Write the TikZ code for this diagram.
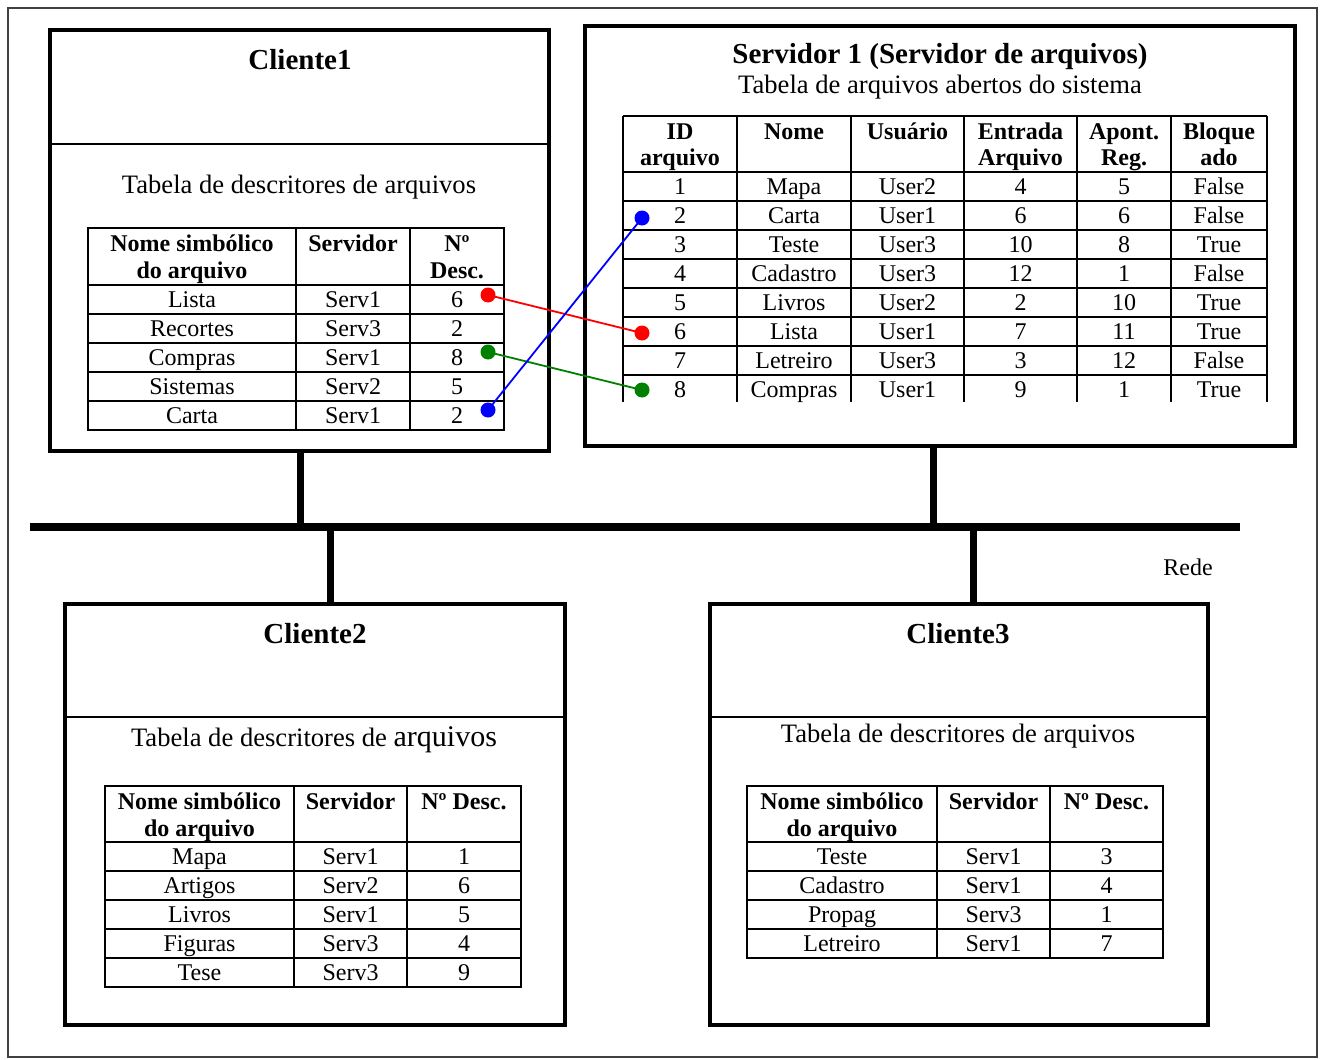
\documentclass[tikz,border=0pt]{standalone}
\usepackage{fontspec}
\setmainfont{Liberation Serif}
\usetikzlibrary{fit}
\definecolor{linkred}{RGB}{255,0,0}
\definecolor{linkgreen}{RGB}{0,128,0}
\definecolor{linkblue}{RGB}{0,0,255}
\begin{document}
\begin{tikzpicture}[x=0.5pt,y=-0.5pt,
  hostbox/.style={draw, line width=2pt, inner sep=0pt},
  rule/.style={line width=1pt},
  grid/.style={line width=1pt},
  bus/.style={line width=4pt},
  drop/.style={line width=3.5pt},
  title/.style={anchor=base, font=\fontsize{14.5}{17}\selectfont\bfseries, inner sep=0pt},
  caption/.style={anchor=base, font=\fontsize{13.3}{16}\selectfont, inner sep=0pt},
  cell/.style={anchor=base, font=\fontsize{12}{14}\selectfont, inner sep=0pt},
  head/.style={anchor=base, font=\fontsize{12}{14}\selectfont\bfseries, inner sep=0pt},
  dot/.style={circle, fill=#1, inner sep=0pt, minimum size=7.5pt},
  link/.style={draw=#1, line width=0.9pt},
]
\useasboundingbox (0,0) rectangle (1320,1059);
% outer frame
\draw[line width=1pt, black!75] (8,8) rectangle (1317,1057);

% ---------- host boxes ----------
\coordinate (c1a) at (50,30);   \coordinate (c1b) at (549,451);
\coordinate (sva) at (585,26);  \coordinate (svb) at (1295,446);
\coordinate (c2a) at (65,604);  \coordinate (c2b) at (565,1025);
\coordinate (c3a) at (710,604); \coordinate (c3b) at (1208,1025);
\node[hostbox, fit=(c1a)(c1b)] (c1) {};
\node[hostbox, fit=(sva)(svb)] (srv) {};
\node[hostbox, fit=(c2a)(c2b)] (c2) {};
\node[hostbox, fit=(c3a)(c3b)] (c3) {};
\draw[rule] (c1.west |- 0,144) -- (c1.east |- 0,144);
\draw[rule] (c2.west |- 0,717) -- (c2.east |- 0,717);
\draw[rule] (c3.west |- 0,717) -- (c3.east |- 0,717);

% ---------- network ----------
\coordinate (busL) at (30,527);
\coordinate (busR) at (1240,527);
\draw[bus] (busL) -- (busR);
\coordinate (d1) at ([xshift=0.25pt]c1.south);
\coordinate (ds) at ([xshift=-3.5pt]srv.south);
\coordinate (d2) at ([xshift=7.5pt]c2.north);
\coordinate (d3) at ([xshift=7pt]c3.north);
\draw[drop] (d1) -- (d1 |- busL);
\draw[drop] (ds) -- (ds |- busL);
\draw[drop] (d2) -- (d2 |- busL);
\draw[drop] (d3) -- (d3 |- busL);
\node[cell] (rede) at (1188,575) {Rede};

% ---------- Cliente1 ----------
\node[title] (c1t) at (300,70) {Cliente1};
\node[caption] (c1c) at (299,193) {Tabela de descritores de arquivos};
\draw[grid] (88,228) rectangle (504,430);
\foreach \y in {285,314,343,372,401} \draw[grid] (88,\y) -- (504,\y);
\foreach \x in {296,410} \draw[grid] (\x,228) -- (\x,430);
\node[head] (t1ha) at (192,251) {Nome simbólico};
\node[head] (t1hb) at (192,278) {do arquivo};
\node[head] (t1hc) at (353,251) {Servidor};
\node[head] (t1hd) at (457,251) {Nº};
\node[head] (t1he) at (457,278) {Desc.};
\foreach \n/\s/\d [count=\i] in {Lista/Serv1/6, Recortes/Serv3/2, Compras/Serv1/8, Sistemas/Serv2/5, Carta/Serv1/2} {
  \node[cell] (t1n\i) at (192,{278+29*\i}) {\n};
  \node[cell] (t1s\i) at (353,{278+29*\i}) {\s};
  \node[cell] (t1d\i) at (457,{278+29*\i}) {\d};
}

% ---------- Servidor 1 ----------
\node[title] (svt) at (940,64) {Servidor 1 (Servidor de arquivos)};
\node[caption] (svc) at (940,94) {Tabela de arquivos abertos do sistema};
\draw[grid] (623,116) -- (1267,116);
\foreach \y in {172,201,230,259,288,317,346,375} \draw[grid] (623,\y) -- (1267,\y);
\foreach \x in {623,737,851,964,1077,1171,1267} \draw[grid] (\x,116) -- (\x,402);
\node[head] (svh1a) at (680,140) {ID};
\node[head] (svh1b) at (680,166) {arquivo};
\node[head] (svh2) at (794,140) {Nome};
\node[head] (svh3) at (907.5,140) {Usuário};
\node[head] (svh4a) at (1020.5,140) {Entrada};
\node[head] (svh4b) at (1020.5,166) {Arquivo};
\node[head] (svh5a) at (1124,140) {Apont.};
\node[head] (svh5b) at (1124,166) {Reg.};
\node[head] (svh6a) at (1219,140) {Bloque};
\node[head] (svh6b) at (1219,166) {ado};
\foreach \n/\u/\e/\p/\b [count=\i] in {Mapa/User2/4/5/False, Carta/User1/6/6/False, Teste/User3/10/8/True, Cadastro/User3/12/1/False, Livros/User2/2/10/True, Lista/User1/7/11/True, Letreiro/User3/3/12/False, Compras/User1/9/1/True} {
  \node[cell] (svi\i) at (680,{165+29*\i}) {\i};
  \node[cell] (svn\i) at (794,{165+29*\i}) {\n};
  \node[cell] (svu\i) at (907.5,{165+29*\i}) {\u};
  \node[cell] (sve\i) at (1020.5,{165+29*\i}) {\e};
  \node[cell] (svp\i) at (1124,{165+29*\i}) {\p};
  \node[cell] (svb\i) at (1219,{165+29*\i}) {\b};
}

% ---------- links between descriptors and open-file entries ----------
\node[dot=linkred]   (lr) at (488,295) {};
\node[dot=linkgreen] (lg) at (488,352) {};
\node[dot=linkblue]  (lb) at (488,410) {};
\node[dot=linkred]   (rr) at (642,333) {};
\node[dot=linkgreen] (rg) at (642,390) {};
\node[dot=linkblue]  (rb) at (642,218) {};
\draw[link=linkred]   (lr.center) -- (rr.center);
\draw[link=linkgreen] (lg.center) -- (rg.center);
\draw[link=linkblue]  (lb.center) -- (rb.center);

% ---------- Cliente2 ----------
\node[title] (c2t) at (315,643) {Cliente2};
\node[caption] (c2c) at (314,746) {Tabela de descritores de {\fontsize{15}{18}\selectfont arquivos}};
\draw[grid] (105,786) rectangle (521,987);
\foreach \y in {842,871,900,929,958} \draw[grid] (105,\y) -- (521,\y);
\foreach \x in {294,407} \draw[grid] (\x,786) -- (\x,987);
\node[head] (t2ha) at (199.5,809) {Nome simbólico};
\node[head] (t2hb) at (199.5,836) {do arquivo};
\node[head] (t2hc) at (350.5,809) {Servidor};
\node[head] (t2hd) at (464,809) {Nº Desc.};
\foreach \n/\s/\d [count=\i] in {Mapa/Serv1/1, Artigos/Serv2/6, Livros/Serv1/5, Figuras/Serv3/4, Tese/Serv3/9} {
  \node[cell] (t2n\i) at (199.5,{835+29*\i}) {\n};
  \node[cell] (t2s\i) at (350.5,{835+29*\i}) {\s};
  \node[cell] (t2d\i) at (464,{835+29*\i}) {\d};
}

% ---------- Cliente3 ----------
\node[title] (c3t) at (958,643) {Cliente3};
\node[caption] (c3c) at (958,742) {Tabela de descritores de arquivos};
\draw[grid] (747,786) rectangle (1163,958);
\foreach \y in {842,871,900,929} \draw[grid] (747,\y) -- (1163,\y);
\foreach \x in {937,1050} \draw[grid] (\x,786) -- (\x,958);
\node[head] (t3ha) at (842,809) {Nome simbólico};
\node[head] (t3hb) at (842,836) {do arquivo};
\node[head] (t3hc) at (993.5,809) {Servidor};
\node[head] (t3hd) at (1106.5,809) {Nº Desc.};
\foreach \n/\s/\d [count=\i] in {Teste/Serv1/3, Cadastro/Serv1/4, Propag/Serv3/1, Letreiro/Serv1/7} {
  \node[cell] (t3n\i) at (842,{835+29*\i}) {\n};
  \node[cell] (t3s\i) at (993.5,{835+29*\i}) {\s};
  \node[cell] (t3d\i) at (1106.5,{835+29*\i}) {\d};
}
\end{tikzpicture}
\end{document}
